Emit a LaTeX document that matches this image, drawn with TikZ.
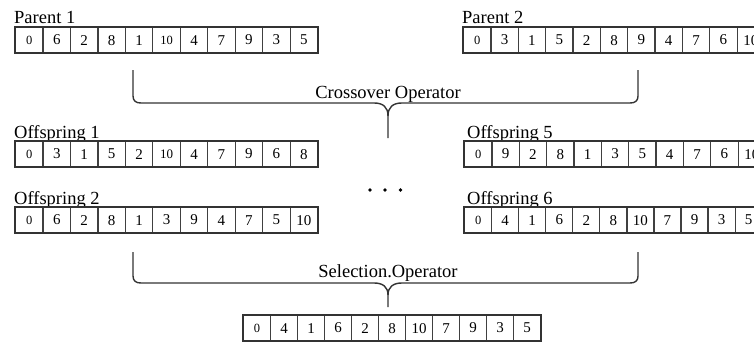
\documentclass[tikz,border=0pt]{standalone}
\usepackage{fontspec}
\setmainfont{Liberation Serif}
\newcommand\sm{\fontsize{12.5}{13}\selectfont}
\newcommand\md{\fontsize{13}{14}\selectfont}
\newcommand\genrow[5]{% name, x, y, cell width, list
  \foreach \v [count=\i] in {#5} {
    \node[cell, minimum width=#4pt, anchor=north west] (#1-\i) at ({#2+(\i-1)*#4},#3) {\v};
  }
  \draw[frame] (#1-1.north west) rectangle (#1-11.south east);
}
\tikzset{
  cell/.style={draw=black!75, line width=1.2pt, minimum height=25pt, inner sep=0pt,
    font=\fontsize{15}{16}\selectfont, text=black},
  frame/.style={draw=black!80, line width=1.6pt},
  lab/.style={anchor=base west, inner sep=0pt, font=\fontsize{18.5}{20}\selectfont},
  oplab/.style={anchor=base, inner sep=0pt, font=\fontsize{18.5}{20}\selectfont},
  bracel/.style={draw=black!80, line width=1.4pt},
  dotn/.style={circle, fill=black, inner sep=0pt, minimum size=3.8pt}
}
\begin{document}
\begin{tikzpicture}[x=1pt,y=-1pt]
\useasboundingbox (0,0) rectangle (754,345);
% Parents
\node[lab] (lp1) at (14,24) {Parent 1};
\genrow{p1}{15}{27}{27.45}{{\sm 0},6,2,8,1,{\sm 10},4,7,9,3,5}
\node[lab] (lp2) at (462,24) {Parent 2};
\genrow{p2}{463}{27}{27.35}{{\sm 0},3,1,5,2,8,9,4,7,6,10}
% Crossover brace
\coordinate (cL) at (133,70);
\coordinate (cR) at (638,70);
\coordinate (cT) at (388,138);
\draw[bracel] (cL) -- (133,96) .. controls (133,101) and (136,103) .. (141,103) -- (374,103)
  .. controls (383,103) and (388,107) .. (388,116) -- (cT);
\draw[bracel] (cR) -- (638,96) .. controls (638,101) and (635,103) .. (630,103) -- (402,103)
  .. controls (393,103) and (388,107) .. (388,116);
\node[oplab] (cop) at (388,98) {Crossover Operator};
% Offspring rows
\node[lab] (lo1) at (14,138) {Offspring 1};
\genrow{o1}{15}{141}{27.45}{{\sm 0},3,1,5,2,{\md 10},4,7,9,6,8}
\node[lab] (lo2) at (14,204) {Offspring 2};
\genrow{o2}{15}{207}{27.45}{{\sm 0},6,2,8,1,3,9,4,7,5,10}
\node[lab] (lo5) at (467,138) {Offspring 5};
\genrow{o5}{464}{141}{27.35}{{\sm 0},9,2,8,1,3,5,4,7,6,10}
\node[lab] (lo6) at (467,204) {Offspring 6};
\genrow{o6}{464}{207}{27.05}{{\sm 0},4,1,6,2,8,10,7,9,3,5}
% dots
\node[dotn] (d1) at (370,190) {};
\node[dotn] (d2) at (385,190) {};
\node[dotn] (d3) at (400.5,190) {};
% Selection brace
\coordinate (sL) at (133,252);
\coordinate (sR) at (638,252);
\coordinate (sT) at (388,307);
\draw[bracel] (sL) -- (133,276) .. controls (133,281) and (136,283) .. (141,283) -- (374,283)
  .. controls (383,283) and (388,287) .. (388,295) -- (sT);
\draw[bracel] (sR) -- (638,276) .. controls (638,281) and (635,283) .. (630,283) -- (402,283)
  .. controls (393,283) and (388,287) .. (388,295);
\node[oplab] (sop) at (388,277) {Selection.Operator};
% Result row
\genrow{r}{243}{315}{27.0}{{\sm 0},4,1,6,2,8,10,7,9,3,5}
\end{tikzpicture}
\end{document}
